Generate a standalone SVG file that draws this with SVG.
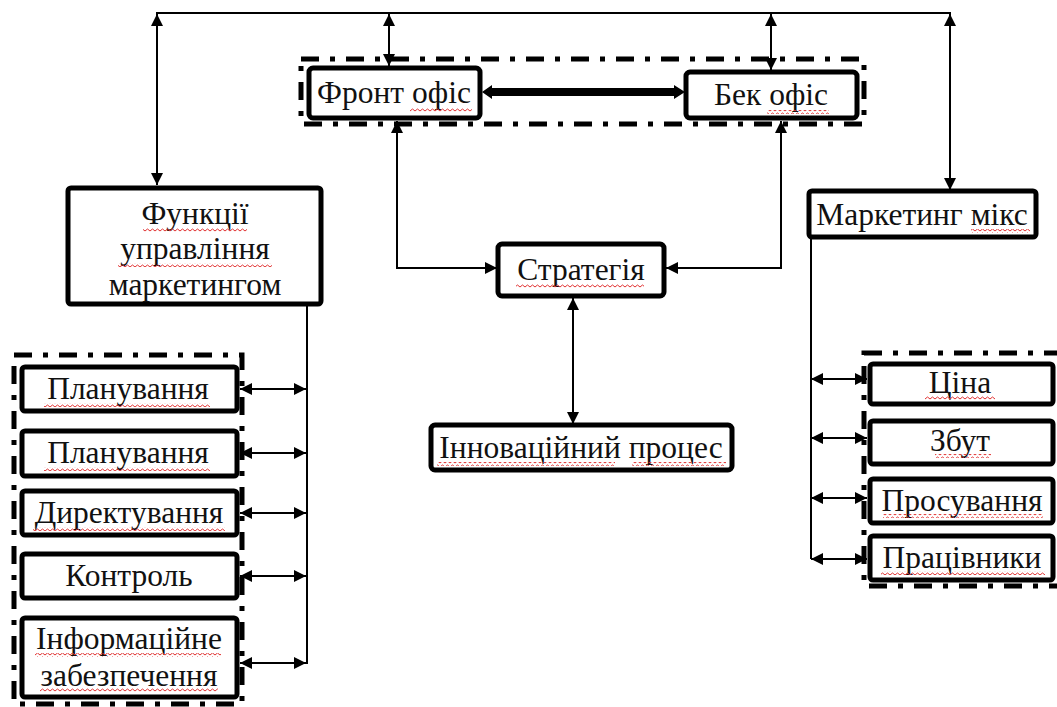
<svg xmlns="http://www.w3.org/2000/svg" width="1057" height="707" viewBox="0 0 1057 707">
<style>
.box{fill:#fff;stroke:#000;stroke-width:5}
.grp{fill:none;stroke:#000;stroke-width:5;stroke-dasharray:18 11 5 11}
.ln{fill:none;stroke:#000;stroke-width:2}
text{font-family:'Liberation Serif','DejaVu Serif','Times New Roman',serif;font-size:31.5px;fill:#111;text-anchor:middle}
.sp{fill:url(#wavy)}
</style>
<defs>
<marker id="ah" viewBox="0 0 10 10" refX="10" refY="5" markerWidth="12" markerHeight="12" markerUnits="userSpaceOnUse" orient="auto-start-reverse">
<path d="M0,0 L10,5 L0,10 z" fill="#000"/>
</marker>
<pattern id="wavy" width="5" height="4" patternUnits="userSpaceOnUse">
<path d="M0,3 L2.5,1 L5,3" fill="none" stroke="#e03030" stroke-width="1"/>
</pattern>
</defs>

<g id="groups">
<rect class="grp" x="301" y="59" width="563" height="65"/>
<rect class="grp" x="14" y="355" width="228" height="349"/>
<rect class="grp" x="864" y="353" width="210" height="233"/>
</g>

<g id="connectors">
<polyline class="ln" points="157,185 157,13 950,13 950,190" marker-end="url(#ah)" marker-start="url(#ah)"/>
<path class="ln" d="M157,25 L157,14" marker-end="url(#ah)"/>
<path class="ln" d="M950,25 L950,14" marker-end="url(#ah)"/>
<line class="ln" x1="389" y1="14" x2="389" y2="66" marker-start="url(#ah)" marker-end="url(#ah)"/>
<line class="ln" x1="771" y1="14" x2="771" y2="70" marker-start="url(#ah)" marker-end="url(#ah)"/>
<path d="M482,92 L492,85 L492,88 L674,88 L674,85 L685,92 L674,99 L674,96 L492,96 L492,99 z" fill="#000"/>
<polyline class="ln" points="397,121 397,268 497,268" marker-start="url(#ah)" marker-end="url(#ah)"/>
<polyline class="ln" points="781,121 781,268 666,268" marker-start="url(#ah)" marker-end="url(#ah)"/>
<line class="ln" x1="573" y1="298" x2="573" y2="424" marker-start="url(#ah)" marker-end="url(#ah)"/>
<line class="ln" x1="307" y1="306" x2="307" y2="664"/>
<line class="ln" x1="240" y1="389" x2="306" y2="389" marker-start="url(#ah)" marker-end="url(#ah)"/>
<line class="ln" x1="240" y1="453" x2="306" y2="453" marker-start="url(#ah)" marker-end="url(#ah)"/>
<line class="ln" x1="240" y1="513" x2="306" y2="513" marker-start="url(#ah)" marker-end="url(#ah)"/>
<line class="ln" x1="240" y1="576" x2="306" y2="576" marker-start="url(#ah)" marker-end="url(#ah)"/>
<line class="ln" x1="240" y1="663" x2="306" y2="663" marker-start="url(#ah)" marker-end="url(#ah)"/>
<line class="ln" x1="811" y1="237" x2="811" y2="559"/>
<line class="ln" x1="811" y1="379" x2="867" y2="379" marker-start="url(#ah)" marker-end="url(#ah)"/>
<line class="ln" x1="811" y1="438" x2="867" y2="438" marker-start="url(#ah)" marker-end="url(#ah)"/>
<line class="ln" x1="811" y1="498" x2="867" y2="498" marker-start="url(#ah)" marker-end="url(#ah)"/>
<line class="ln" x1="811" y1="559" x2="867" y2="559" marker-start="url(#ah)" marker-end="url(#ah)"/>
</g>

<g id="front">
<rect class="box" x="309" y="68" width="171" height="50" rx="4"/>
<text x="394" y="103">Фронт офіс</text>
<rect class="sp" x="410" y="108" width="62" height="4"/>
</g>
<g id="back">
<rect class="box" x="686" y="72" width="171" height="46" rx="4"/>
<text x="771" y="105">Бек офіс</text>
<rect class="sp" x="767" y="110" width="62" height="4"/>
</g>
<g id="functions">
<rect class="box" x="68" y="188" width="253" height="116" rx="3"/>
<text x="195" y="224">Функції</text>
<text x="195" y="259">управління</text>
<text x="195" y="295">маркетингом</text>
<rect class="sp" x="143" y="228" width="104" height="4"/>
<rect class="sp" x="118" y="263" width="154" height="4"/>
</g>
<g id="strategy">
<rect class="box" x="498" y="244" width="166" height="52" rx="4"/>
<text x="581" y="280">Стратегія</text>
<rect class="sp" x="516" y="284" width="128" height="4"/>
</g>
<g id="innovation">
<rect class="box" x="431" y="425" width="301" height="45" rx="4"/>
<text x="581" y="458">Інноваційний процес</text>
<rect class="sp" x="437" y="462" width="178" height="4"/>
<rect class="sp" x="632" y="462" width="94" height="4"/>
</g>
<g id="mix">
<rect class="box" x="809" y="191" width="227" height="46" rx="3"/>
<text x="922" y="225">Маркетинг мікс</text>
<rect class="sp" x="971" y="229" width="59" height="4"/>
</g>

<g id="plan1">
<rect class="box" x="22" y="367" width="215" height="44" rx="3"/>
<text x="128" y="399">Планування</text>
<rect class="sp" x="44" y="403" width="166" height="4"/>
</g>
<g id="plan2">
<rect class="box" x="22" y="431" width="215" height="45" rx="3"/>
<text x="128" y="463">Планування</text>
<rect class="sp" x="44" y="467" width="166" height="4"/>
</g>
<g id="direct">
<rect class="box" x="22" y="491" width="215" height="44" rx="3"/>
<text x="129" y="523">Директування</text>
<rect class="sp" x="33" y="527" width="192" height="4"/>
</g>
<g id="control">
<rect class="box" x="22" y="554" width="215" height="44" rx="3"/>
<text x="129" y="586">Контроль</text>
</g>
<g id="info">
<rect class="box" x="22" y="618" width="215" height="79" rx="3"/>
<text x="129" y="649">Інформаційне</text>
<text x="129" y="686">забезпечення</text>
<rect class="sp" x="35" y="653" width="186" height="4"/>
<rect class="sp" x="40" y="688" width="178" height="4"/>
</g>

<g id="price">
<rect class="box" x="870" y="364" width="183" height="40" rx="3"/>
<text x="960" y="393">Ціна</text>
<rect class="sp" x="925" y="396" width="70" height="4"/>
</g>
<g id="sales">
<rect class="box" x="870" y="421" width="183" height="43" rx="3"/>
<text x="960" y="451">Збут</text>
<rect class="sp" x="935" y="454" width="56" height="4"/>
</g>
<g id="promo">
<rect class="box" x="870" y="479" width="183" height="44" rx="3"/>
<text x="962" y="511">Просування</text>
<rect class="sp" x="883" y="514" width="160" height="4"/>
</g>
<g id="staff">
<rect class="box" x="870" y="536" width="183" height="44" rx="3"/>
<text x="962" y="568">Працівники</text>
<rect class="sp" x="881" y="571" width="164" height="4"/>
</g>
</svg>
